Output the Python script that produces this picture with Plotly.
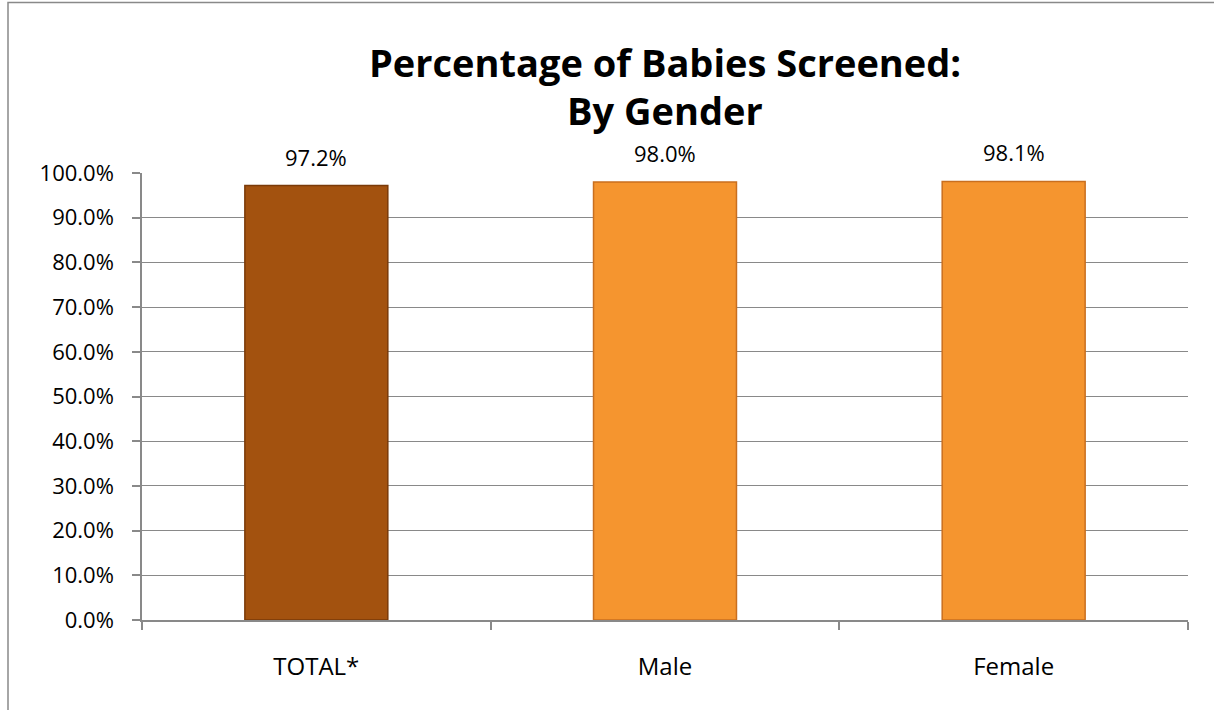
import plotly.graph_objects as go

categories = ["TOTAL*", "Male", "Female"]
values = [97.2, 98.0, 98.1]
value_labels = ["97.2%", "98.0%", "98.1%"]
bar_colors = ["#A3520F", "#F5952F", "#F5952F"]
edge_colors = ["#7A3A08", "#C96F1F", "#C96F1F"]
y_ticks = [0, 10, 20, 30, 40, 50, 60, 70, 80, 90, 100]
y_tick_labels = ["0.0%", "10.0%", "20.0%", "30.0%", "40.0%", "50.0%",
                 "60.0%", "70.0%", "80.0%", "90.0%", "100.0%"]
title_lines = ["Percentage of Babies Screened:", "By Gender"]

W, H = 1214, 710
ml, mr, mt, mb = 142, 26, 173, 90
pw = W - ml - mr
ph = H - mt - mb
GRAY = "#898989"
FONT = "Open Sans"

fig = go.Figure()
fig.add_trace(go.Bar(
    x=categories, y=values,
    marker=dict(color=bar_colors, line=dict(color=edge_colors, width=1.5)),
    width=0.41,
    hoverinfo="x+y",
))

# data labels above bars
for c, v, t in zip(categories, values, value_labels):
    fig.add_annotation(x=c, y=v, xref="x", yref="y", text=t, showarrow=False,
                       yanchor="bottom", yshift=12,
                       font=dict(family=FONT, size=22, color="#000000"))

# title lines
for i, line in enumerate(title_lines):
    ypx = 62 + 48 * i
    fig.add_annotation(x=0.5, xref="paper", yref="paper",
                       y=1 + (mt - ypx) / ph, yanchor="middle", xanchor="center",
                       text=f"<b>{line}</b>", showarrow=False,
                       font=dict(family=FONT, size=38, color="#000000"))

# outer chart frame (partially off-canvas, as in the reference)
fig.add_shape(type="rect", xref="paper", yref="paper",
              x0=(8 - ml) / pw, x1=1.2,
              y0=-0.4, y1=1 + (mt - 2.5) / ph,
              line=dict(color=GRAY, width=1.5), fillcolor="rgba(0,0,0,0)", layer="below")

fig.update_layout(
    width=W, height=H,
    margin=dict(l=ml, r=mr, t=mt, b=mb, autoexpand=False),
    paper_bgcolor="white", plot_bgcolor="white",
    font=dict(family=FONT, size=22, color="#000000"),
    showlegend=False,
)
fig.update_yaxes(range=[0, 100], tickvals=y_ticks, ticktext=y_tick_labels,
                 showgrid=True, gridcolor=GRAY, gridwidth=1,
                 showline=True, linecolor=GRAY, linewidth=1.5,
                 ticks="outside", ticklen=8, tickcolor=GRAY, tickwidth=1.5,
                 zeroline=False, ticklabelstandoff=14,
                 tickfont=dict(family=FONT, size=22))
fig.update_xaxes(showline=True, linecolor=GRAY, linewidth=2,
                 ticks="outside", ticklen=8, tickcolor=GRAY, tickwidth=1.5,
                 tickson="boundaries", showgrid=False,
                 ticklabelstandoff=24,
                 tickfont=dict(family=FONT, size=24))

fig.write_html("out.html", config={"displayModeBar": False},
               post_script="document.body.style.margin='0';")
